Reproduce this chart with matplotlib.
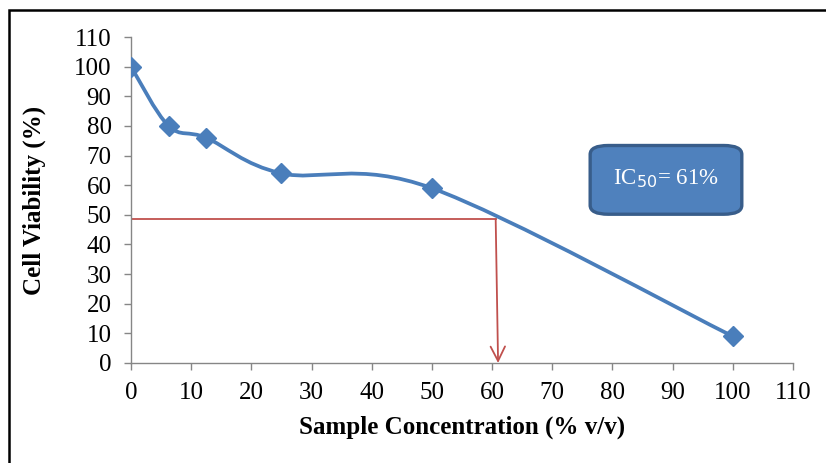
import numpy as np
import matplotlib.pyplot as plt
from matplotlib.path import Path
from matplotlib.patches import PathPatch, FancyBboxPatch, Rectangle

# data
concentration = [0, 6.25, 12.5, 25, 50, 100]
viability = [100, 80, 76, 64, 59, 9]
ic50_x = 61
ic50_y = 48.5
x_ticks = list(range(0, 111, 10))
y_ticks = list(range(0, 111, 10))

plt.rcParams["font.family"] = ["Liberation Serif", "DejaVu Serif"]

blue = "#4A7EBB"
red = "#C0504D"
grey = "#868686"

fig = plt.figure(figsize=(8.26, 4.63), dpi=100)
ax = fig.add_axes([0.1586, 0.216, 0.8014, 0.704])

# Excel-style smoothed line: cardinal bezier segments through the points
pts = np.column_stack([concentration, viability]).astype(float)
verts = [pts[0]]
codes = [Path.MOVETO]
n = len(pts)
for i in range(n - 1):
    p0 = pts[max(i - 1, 0)]
    p1 = pts[i]
    p2 = pts[i + 1]
    p3 = pts[min(i + 2, n - 1)]
    c1 = p1 + (p2 - p0) / 6
    c2 = p2 - (p3 - p1) / 6
    verts += [c1, c2, p2]
    codes += [Path.CURVE4] * 3
ax.add_patch(PathPatch(Path(verts, codes), facecolor="none", edgecolor=blue,
                       lw=2.7, capstyle="round", zorder=3))
ax.plot(concentration, viability, linestyle="none", marker="D", markersize=10,
        color=blue, zorder=4)

# IC50 guide lines
ax.plot([0, ic50_x - 0.4], [ic50_y, ic50_y], color=red, lw=1.3, zorder=2)
ax.annotate("", xy=(ic50_x, 0), xytext=(ic50_x - 0.4, ic50_y),
            arrowprops=dict(arrowstyle="->", color=red, lw=1.3,
                            mutation_scale=26, shrinkA=0, shrinkB=0),
            zorder=2)

# IC50 label box
box = FancyBboxPatch((76.3, 50.2), 25.2, 23.2,
                     boxstyle="round,pad=0,rounding_size=3",
                     facecolor="#4F81BD", edgecolor="#385D8A", lw=2.4,
                     zorder=5, clip_on=False)
ax.add_patch(box)
ax.text(88.9, 62.2, "IC$_{50}$= 61%", color="white", fontsize=16.5,
        ha="center", va="center", zorder=6)

ax.set_xlim(0, 110)
ax.set_ylim(0, 110)
ax.set_xticks(x_ticks)
ax.set_yticks(y_ticks)
ax.tick_params(labelsize=18, color=grey, length=5, width=1, pad=9)
for side in ["top", "right"]:
    ax.spines[side].set_visible(False)
for side in ["left", "bottom"]:
    ax.spines[side].set_color(grey)
    ax.spines[side].set_linewidth(1)

ax.set_xlabel("Sample Concentration (% v/v)", fontsize=18, fontweight="bold",
              labelpad=8)
ax.set_ylabel("Cell Viability (%)", fontsize=18, fontweight="bold", labelpad=20)

# outer chart frame (only top and left are inside the picture)
fig.add_artist(Rectangle((9 / 826, -0.1), 1.2, 1 - 10 / 463 + 0.1,
                         transform=fig.transFigure, facecolor="none",
                         edgecolor="black", lw=1.8))

fig.savefig("out.png", dpi=100)
